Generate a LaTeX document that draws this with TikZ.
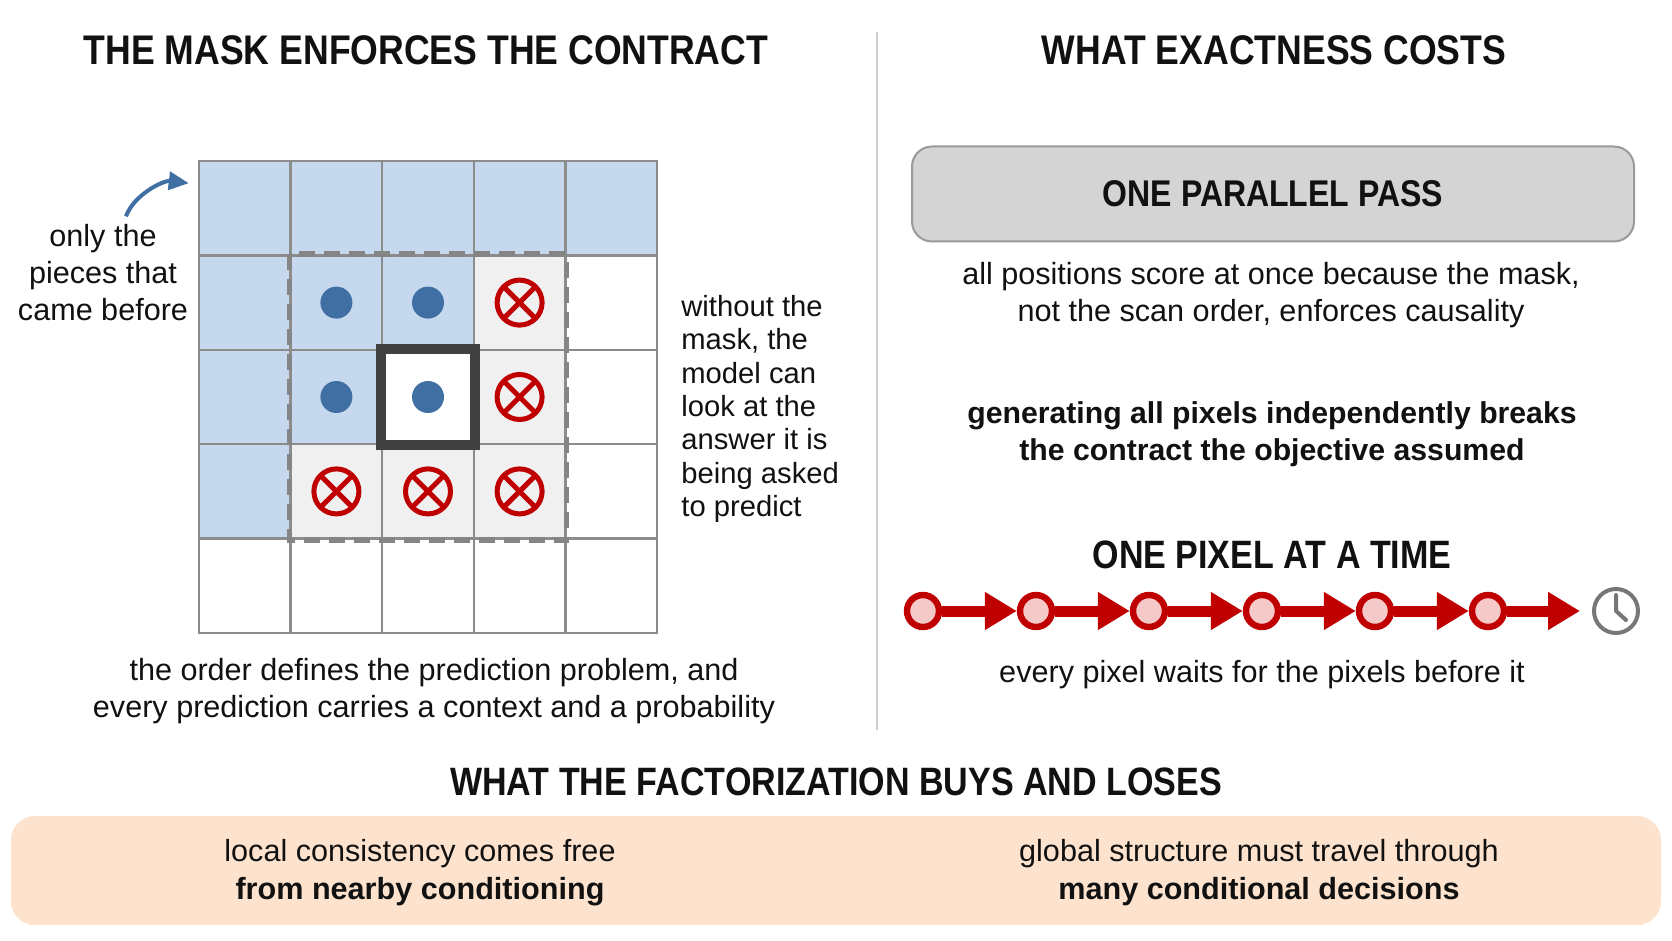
\documentclass[tikz,border=0pt]{standalone}
\usepackage[usenames,dvipsnames]{xcolor}
\usepackage{fontspec}
\setmainfont{Liberation Sans}
\newfontfamily\headfont{Liberation Sans}[FakeStretch=0.86]
\usepackage{tikz}
\usetikzlibrary{arrows.meta}
\usetikzlibrary{positioning}

\definecolor{ink}{HTML}{111111}
\definecolor{shadeb}{HTML}{C5D8EE}
\definecolor{shadeg}{HTML}{F0F0F0}
\definecolor{shadew}{HTML}{FFFFFF}
\definecolor{gridgray}{HTML}{8C8C8C}
\definecolor{dashgray}{HTML}{858585}
\definecolor{dotblue}{HTML}{3F6FA3}
\definecolor{chainred}{HTML}{C00000}
\definecolor{chainpink}{HTML}{F6C9C9}
\definecolor{boxgray}{HTML}{D4D4D4}
\definecolor{boxedge}{HTML}{9A9A9A}
\definecolor{peach}{HTML}{FDE3CD}
\definecolor{clockgray}{HTML}{777777}

\begin{document}
\begin{tikzpicture}[x=0.5pt, y=-0.5pt]
				\useasboundingbox[fill=white] (0,0) rectangle (1672,941);
				\begin{scope}[every node/.style = {rectangle, draw=gridgray, line width=1.25pt,
						minimum width=45.8pt, minimum height=47.2pt, inner sep=0pt}]
					\foreach \r/\row in {0/{b,b,b,b,b}, 1/{b,b,b,g,w}, 2/{b,b,w,g,w}, 3/{b,g,g,g,w}, 4/{w,w,w,w,w}}
						\foreach \s [count=\c from 0] in \row
							\node[fill=shade\s] (c\r\c) at ({244.8+91.6*\c},{208.2+94.4*\r}) {};
				\end{scope}
				\draw[dashgray, line width=2.8pt, dash pattern=on 8pt off 4.5pt] (c11.north west) rectangle (c33.south east);
				\draw[black!75, line width=5pt] (c22.north west) rectangle (c22.south east);
				\begin{scope}[every node/.style = {circle, fill=dotblue, minimum size=16pt, inner sep=0pt}]
					\foreach \rc in {11,12,21,22}
						\node (d\rc) at (c\rc) {};
				\end{scope}
				\begin{scope}[every node/.style = {circle, draw=chainred, line width=2.5pt,
						minimum size=22.5pt, inner sep=0pt, outer sep=0pt}]
					\foreach \rc in {13,23,31,32,33} {
						\node (x\rc) at (c\rc) {};
						\draw[chainred, line width=2.5pt] (x\rc.45) -- (x\rc.225) (x\rc.135) -- (x\rc.315);
					}
				\end{scope}
				\begin{scope}[every node/.style = {inner sep=0pt, align=center, text=ink,
						font=\fontsize{15.3}{18.5}\selectfont}]
					\node (lefttitle) at (426,50) {\headfont\bfseries\fontsize{20.7}{24}\selectfont THE MASK ENFORCES THE CONTRACT};
					\node (righttitle) at (1274,50) {\headfont\bfseries\fontsize{20.7}{24}\selectfont WHAT EXACTNESS COSTS};
					\node (before) at (103,273) {only the\\pieces that\\came before};
					\node[anchor=west, align=left, font=\fontsize{14.6}{16.7}\selectfont] (without) at (681,409) {without the\\mask, the\\model can\\look at the\\answer it is\\being asked\\to predict};
					\node (order) at (434,691) {the order defines the prediction problem, and\\every prediction carries a context and a probability};
					\node[rectangle, rounded corners=10pt, draw=boxedge, fill=boxgray, line width=1pt,
						minimum width=361pt, minimum height=47.5pt] (pass) at (1273,194)
						{\headfont\bfseries\fontsize{18.6}{22}\selectfont ONE PARALLEL PASS};
					\node (passnote) at (1271,295.5) {all positions score at once because the mask,\\not the scan order, enforces causality};
					\node[font=\fontsize{15.1}{18.5}\selectfont] (breaks) at (1272,434.5) {\bfseries generating all pixels independently breaks\\\bfseries the contract the objective assumed};
					\node (onepix) at (1272,555) {\headfont\bfseries\fontsize{19.8}{24}\selectfont ONE PIXEL AT A TIME};
					\node (waits) at (1262,675) {every pixel waits for the pixels before it};
					\node (buys) at (836,782) {\headfont\bfseries\fontsize{19.8}{24}\selectfont WHAT THE FACTORIZATION BUYS AND LOSES};
					\node[rectangle, rounded corners=12pt, fill=peach, minimum width=825pt, minimum height=54.5pt] (band) at (836,870.5) {};
					\node[font=\fontsize{15.3}{19}\selectfont] (free) at (420,873) {local consistency comes free\\\bfseries from nearby conditioning};
					\node[font=\fontsize{15.3}{19}\selectfont] (travel) at (1259,873) {global structure must travel through\\\bfseries many conditional decisions};
				\end{scope}
				\draw[black!20, line width=1pt] (877,32) -- (877,730);
				\draw[dotblue, line width=2pt, -{Triangle[length=10pt,width=9pt]}]
					([shift={(11.5pt,4pt)}]before.north) .. controls +(8,-22) and +(-25,-3) .. ([shift={(-4.5pt,12.5pt)}]c00.west);
				\begin{scope}[every node/.style = {circle, draw=chainred, fill=chainpink, line width=3.2pt,
						minimum size=16pt, inner sep=0pt}]
					\foreach \i in {1,...,6}
						\node (p\i) at ({923+113*(\i-1)},611) {};
				\end{scope}
				\node[circle, draw=clockgray, line width=2pt, minimum size=22pt, inner sep=0pt] (clock) at (1616,611) {};
				\draw[clockgray, line width=2pt, line cap=round, line join=round]
					([yshift=8pt]clock.center) -- (clock.center) -- ++(10,9);
				\begin{scope}[>={Triangle[length=16pt,width=18pt]},
						every edge/.style={draw=chainred, line width=5.5pt}]
					\foreach \i/\j in {1/2,2/3,3/4,4/5,5/6}
						\path [->] (p\i) edge (p\j);
					\path [->, shorten >=6pt] (p6) edge (clock);
				\end{scope}
			\end{tikzpicture}
\end{document}
